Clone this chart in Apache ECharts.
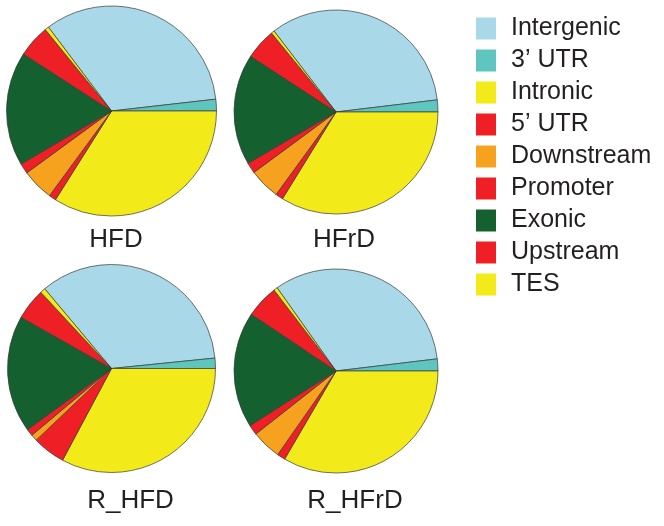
<!DOCTYPE html>
<html>
<head>
<meta charset="utf-8">
<script src="https://cdn.jsdelivr.net/npm/echarts@6/dist/echarts.min.js"></script>
<style>
html,body{margin:0;padding:0;background:#fff;}
#chart{width:664px;height:526px;}
</style>
</head>
<body>
<div id="chart"></div>
<script>
// Categories in legend order (slices go clockwise in this order)
var categories = ['Intergenic', '3\u2019 UTR', 'Intronic', '5\u2019 UTR', 'Downstream', 'Promoter', 'Exonic', 'Upstream', 'TES'];
var colors = ['#A9D9E8', '#5EC5BF', '#F2EB19', '#EE2026', '#F7A21F', '#EE2026', '#14602F', '#EE2026', '#F2EB19'];
// Percentages
var hfd   = [33.5, 1.8, 34.0, 1.1, 4.9, 1.6, 17.6, 5.0, 0.6];
var hfrd  = [33.5, 1.9, 33.8, 1.2, 4.9, 1.7, 17.6, 4.9, 0.5];
var rHfd  = [34.5, 1.6, 32.8, 5.1, 1.0, 1.1, 18.2, 4.9, 0.8];
var rHfrd = [32.9, 1.9, 33.4, 1.3, 4.7, 1.6, 18.4, 5.2, 0.6];
var groupNames = ['HFD', 'HFrD', 'R_HFD', 'R_HFrD'];
var groupValues = [hfd, hfrd, rHfd, rHfrd];

var pieCenters = [[111.5, 111], [336, 112], [111.5, 368.5], [336, 371]];
var pieRadii = [105, 102, 104, 102];
var labelPos = [[116, 240], [344, 240], [130.5, 501], [355, 501]];

var chart = echarts.init(document.getElementById('chart'), null, {renderer: 'canvas'});

var series = groupValues.map(function (vals, gi) {
  var total = vals.reduce(function (a, b) { return a + b; }, 0);
  // Intronic begins at 3 o'clock: start angle is the share of the first two categories
  var start = (vals[0] + vals[1]) / total * 360;
  return {
    type: 'pie',
    name: groupNames[gi],
    center: pieCenters[gi],
    radius: [0, pieRadii[gi]],
    startAngle: start,
    clockwise: true,
    label: {show: false},
    labelLine: {show: false},
    emphasis: {disabled: true},
    silent: true,
    itemStyle: {borderColor: '#3a3a3a', borderWidth: 0.7},
    data: categories.map(function (c, i) {
      return {name: c, value: vals[i], itemStyle: {color: colors[i]}};
    })
  };
});

var graphics = groupNames.map(function (n, gi) {
  return {
    type: 'text',
    x: labelPos[gi][0],
    y: labelPos[gi][1],
    style: {
      text: n,
      fill: '#231F20',
      font: '26px "Liberation Sans", Arial, sans-serif',
      textAlign: 'center',
      textVerticalAlign: 'middle'
    }
  };
});

chart.setOption({
  animation: false,
  backgroundColor: '#ffffff',
  legend: {
    orient: 'vertical',
    left: 476,
    top: 16,
    padding: 0,
    itemWidth: 20,
    itemHeight: 22,
    itemGap: 7,
    icon: 'rect',
    selectedMode: false,
    data: categories,
    itemStyle: {borderWidth: 0},
    textStyle: {
      fontFamily: '"Liberation Sans", Arial, sans-serif',
      fontSize: 25,
      color: '#231F20',
      padding: [0, 0, 0, 10]
    }
  },
  series: series,
  graphic: graphics
});
</script>
</body>
</html>
